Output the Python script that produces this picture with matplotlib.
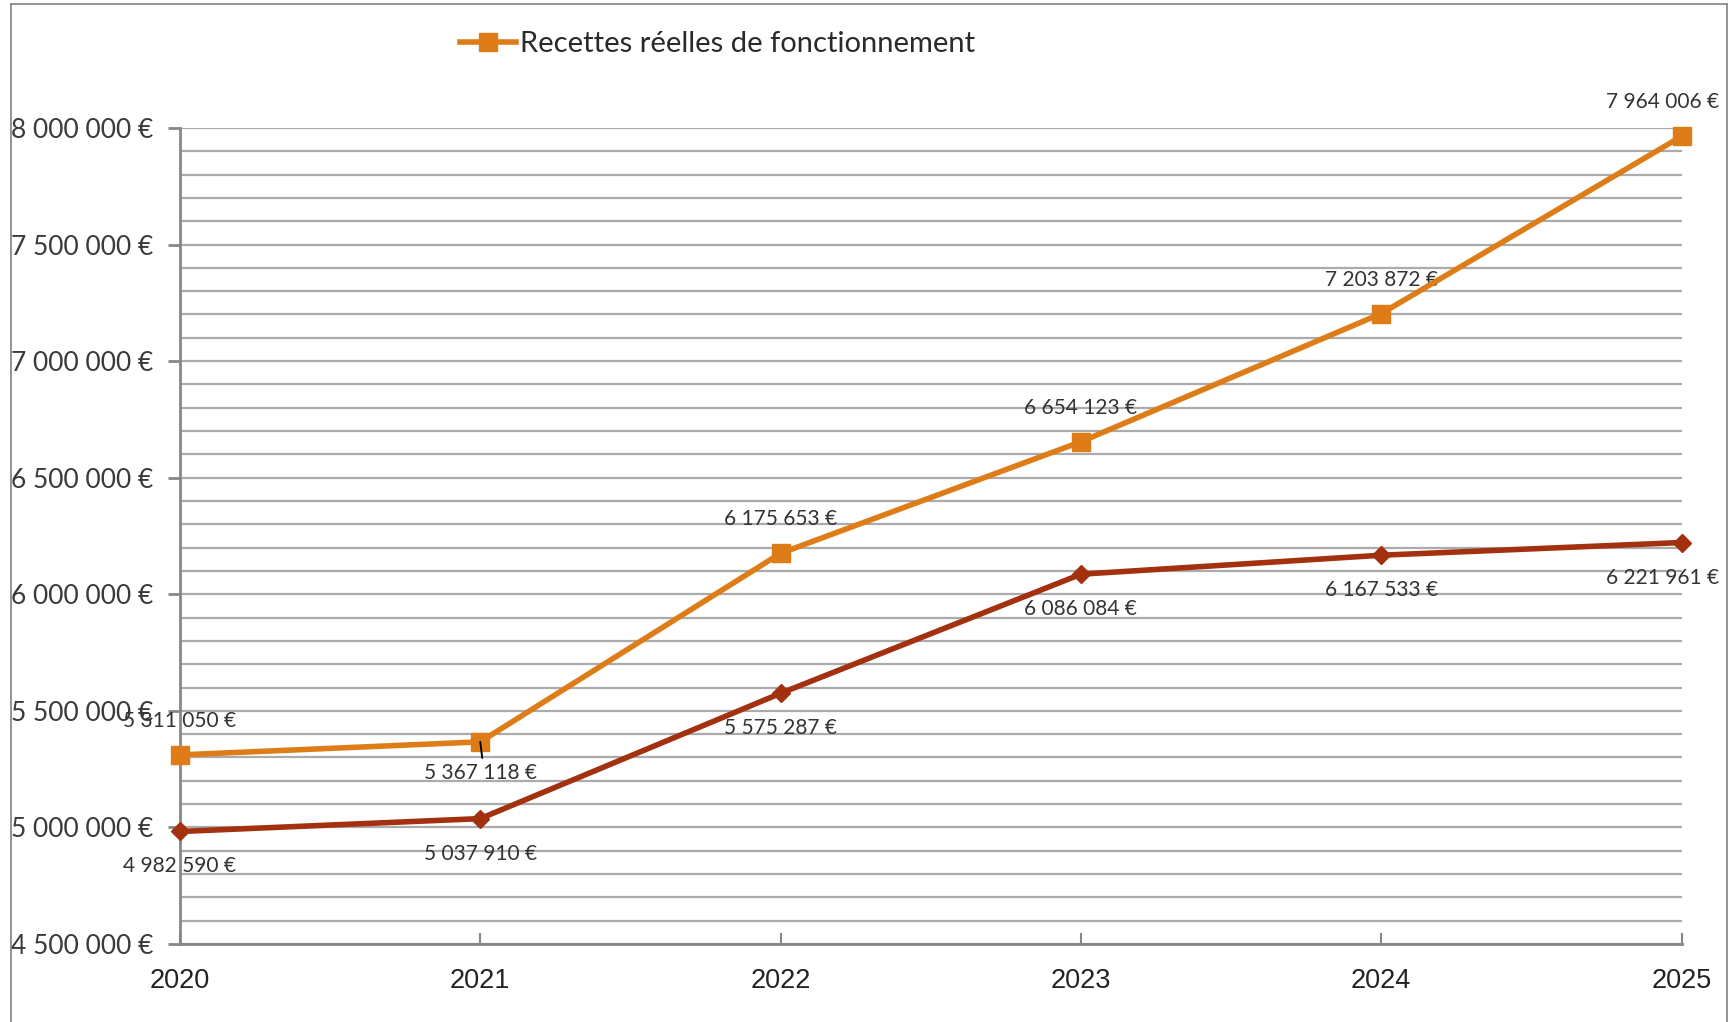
import matplotlib
matplotlib.use("Agg")
import matplotlib.pyplot as plt
from matplotlib.ticker import MultipleLocator, FuncFormatter
from matplotlib.lines import Line2D

years = [2020, 2021, 2022, 2023, 2024, 2025]
recettes = [5311050, 5367118, 6175653, 6654123, 7203872, 7964006]
depenses = [4982590, 5037910, 5575287, 6086084, 6167533, 6221961]

orange = "#DE7D18"
rouge = "#A3300F"
grille = "#ABABAB"
axe = "#878787"


def euro(v):
    return "{:,.0f} €".format(v).replace(",", " ")


fig = plt.figure(figsize=(17.3, 10.22), dpi=100)
ax = fig.add_axes([0.104, 0.0763, 0.868, 0.7985])

ax.plot(years, depenses, color=rouge, lw=4, marker="D", ms=9, clip_on=False, zorder=3)
ax.plot(years, recettes, color=orange, lw=4, marker="s", ms=13.5, clip_on=False, zorder=4)

ax.set_xlim(2020, 2025)
ax.set_ylim(4500000, 8000000)
ax.yaxis.set_major_locator(MultipleLocator(500000))
ax.yaxis.set_minor_locator(MultipleLocator(100000))
ax.yaxis.set_major_formatter(FuncFormatter(lambda v, p: euro(v)))
ax.set_xticks(years)

ax.grid(axis="y", which="both", color=grille, lw=1.6)
ax.set_axisbelow(True)
for s in ["top", "right"]:
    ax.spines[s].set_visible(False)
for s in ["left", "bottom"]:
    ax.spines[s].set_color(axe)
    ax.spines[s].set_linewidth(2)

ax.tick_params(axis="y", which="major", direction="out", length=9, width=2,
               color=axe, pad=10, labelsize=19, labelcolor="#3A3A3A")
ax.tick_params(axis="y", which="minor", length=0)
ax.tick_params(axis="x", direction="in", length=8, width=1.5, color=axe,
               pad=17, labelsize=19.5, labelcolor="#222222")
for t in ax.get_yticklabels():
    t.set_family(["Lato", "DejaVu Sans"])
for t in ax.get_xticklabels():
    t.set_family(["Liberation Sans", "DejaVu Sans"])

lab_font = ["Liberation Sans Narrow", "Lato", "DejaVu Sans"]
lab_size = 15

# etiquettes recettes
for x, v in zip(years, recettes):
    dx = -19 if x == 2025 else 0
    dy = -31 if x == 2021 else 34
    ax.annotate(euro(v), (x, v), xytext=(dx, dy), textcoords="offset pixels",
                ha="center", va="center", fontsize=lab_size, family=lab_font,
                color="#333333", annotation_clip=False)

# trait de rappel 2021
ax.annotate("", (2021, recettes[1]), xytext=(2, -16), textcoords="offset pixels",
            arrowprops=dict(arrowstyle="-", color="black", lw=1.4,
                            shrinkA=0, shrinkB=0), zorder=6)

# etiquettes depenses
for x, v in zip(years, depenses):
    dx = -19 if x == 2025 else 0
    ax.annotate(euro(v), (x, v), xytext=(dx, -35), textcoords="offset pixels",
                ha="center", va="center", fontsize=lab_size, family=lab_font,
                color="#333333", annotation_clip=False)

handle = Line2D([], [], color=orange, lw=4, marker="s", ms=13.5)
fig.legend([handle], ["Recettes réelles de fonctionnement"], loc="center",
           bbox_to_anchor=(0.415, 0.957), frameon=False, handlelength=1.9,
           handletextpad=0.15, labelcolor="#2A2A2A",
           prop={"family": ["Lato", "DejaVu Sans"], "size": 21})

# cadre
fig.add_artist(Line2D([0.0064, 0.0064], [0, 0.996], color="#8A8A8A", lw=1.3))
fig.add_artist(Line2D([0.0064, 0.998], [0.996, 0.996], color="#8A8A8A", lw=1.3))
fig.add_artist(Line2D([0.998, 0.998], [0, 0.996], color="#8A8A8A", lw=1.3))

fig.savefig("out.png", dpi=100)
